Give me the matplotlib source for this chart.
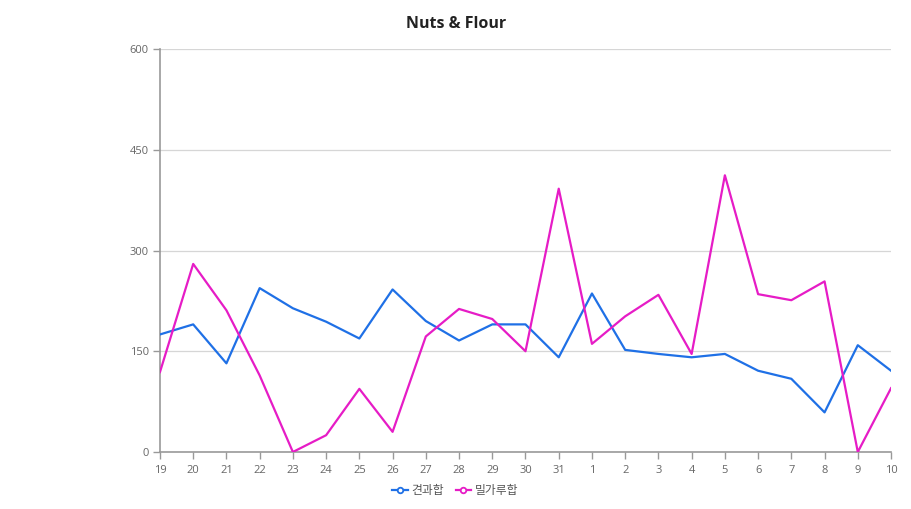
import matplotlib
matplotlib.use("Agg")
import matplotlib.pyplot as plt
from matplotlib.lines import Line2D

plt.rcParams['font.family'] = ['Open Sans', 'Noto Sans CJK KR', 'DejaVu Sans']

days = ["19", "20", "21", "22", "23", "24", "25", "26", "27", "28", "29", "30", "31",
        "1", "2", "3", "4", "5", "6", "7", "8", "9", "10"]
nuts = [175, 190, 132, 244, 214, 194, 169, 242, 195, 166, 190, 190, 141,
        236, 152, 146, 141, 146, 121, 109, 59, 159, 121]
flour = [119, 280, 211, 114, 0, 25, 94, 30, 172, 213, 198, 150, 392,
         161, 202, 234, 146, 412, 235, 226, 254, 0, 95]
series_names = ["견과합", "밀가루합"]
colors = ["#1f70e6", "#e61cc6"]
yticks = [0, 150, 300, 450, 600]

fig = plt.figure(figsize=(9.12, 5.09), dpi=100)
ax = fig.add_axes([0.1754, 0.112, 0.8016, 0.7917])

x = list(range(len(days)))
ax.plot(x, nuts, color=colors[0], lw=1.6, zorder=3)
ax.plot(x, flour, color=colors[1], lw=1.6, zorder=3)

ax.set_xlim(0, len(days) - 1)
ax.set_ylim(0, 600)
ax.set_xticks(x)
ax.set_xticklabels(days)
ax.set_yticks(yticks)
ax.yaxis.grid(True, color="#d6d6d6", lw=0.9)
ax.set_axisbelow(True)

for s in ["top", "right"]:
    ax.spines[s].set_visible(False)
for s in ["left", "bottom"]:
    ax.spines[s].set_color("#999999")
    ax.spines[s].set_linewidth(1.2)
ax.tick_params(axis="both", colors="#999999", labelcolor="#666666", labelsize=8, length=5, width=1)
ax.tick_params(axis="x", pad=4.5)
ax.tick_params(axis="y", pad=3)

fig.text(0.5, 0.953, "Nuts & Flour", ha="center", va="center", fontsize=11.5, fontweight="bold", color="#222222")

handles = [Line2D([0], [0], color=c, lw=1.6, marker="o", markersize=4,
                  markerfacecolor="white", markeredgecolor=c, markeredgewidth=1.3)
           for c in colors]
fig.legend(handles, series_names, loc="center", bbox_to_anchor=(0.499, 0.037), ncol=2,
           frameon=False, fontsize=8.5, handlelength=1.3, handletextpad=0.3,
           columnspacing=1.0, labelcolor="#555555")

fig.savefig("out.png", dpi=100)
